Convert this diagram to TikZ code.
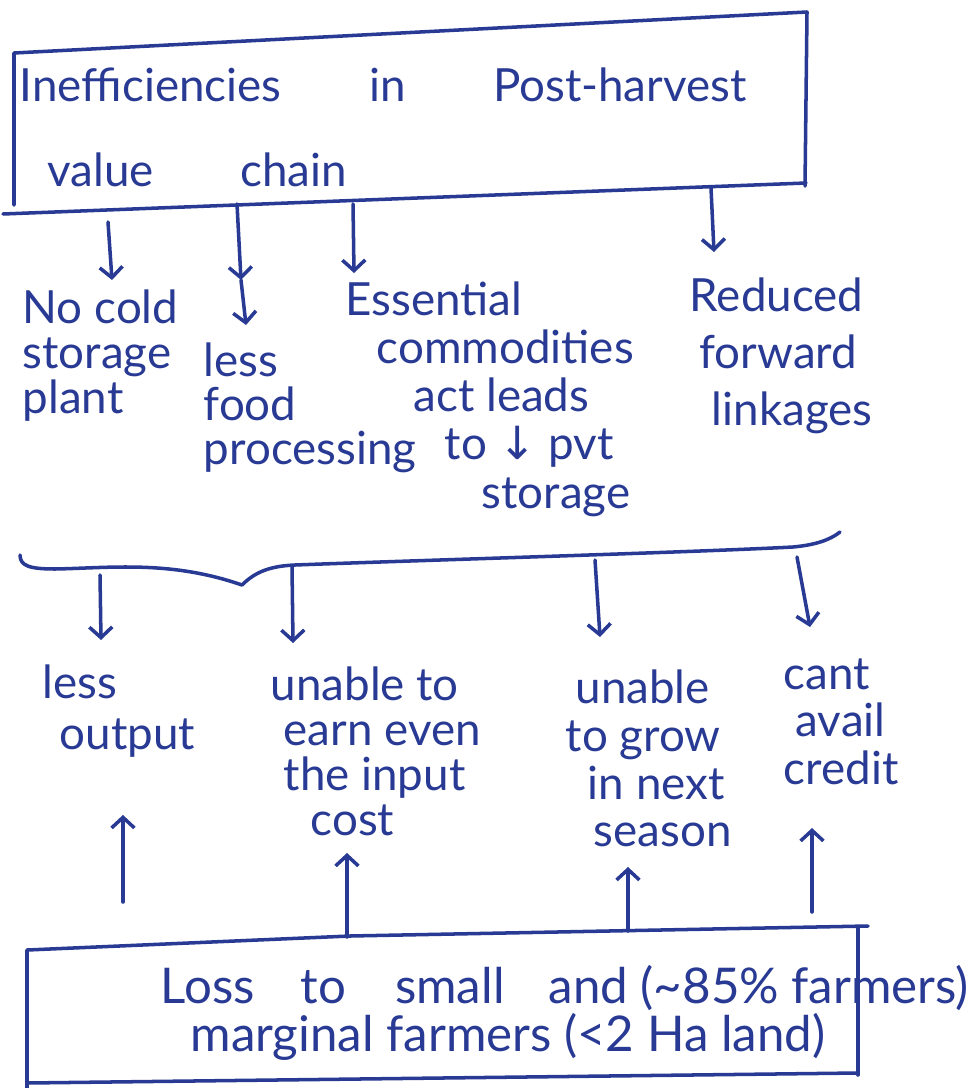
\documentclass[tikz,border=0pt]{standalone}
\usepackage{fontspec}
\setmainfont{Lato}
\newfontfamily\symf{DejaVu Sans}
\usetikzlibrary{arrows.meta}
\definecolor{inkc}{RGB}{40,58,148}
\begin{document}
\begin{tikzpicture}[x=0.01cm,y=-0.01cm,
  ink/.style={draw=inkc, line width=1pt, line cap=round, line join=round},
  arr/.style={ink, -{Straight Barb[length=3pt,width=6.5pt]}},
  lbl/.style={text=inkc, inner sep=0pt, anchor=north west, align=left}]
\useasboundingbox[fill=white] (0,0) rectangle (974,1088);

% top box
\draw[ink] (14,205) -- (14,53) -- (807,12) -- (805,186);
\draw[ink] (3,214) -- (806,183);
\node[lbl, font=\fontsize{13}{24.2}\selectfont] (top) at (19,67)
  {Inefficiencies\hspace{25pt}in\hspace{24.8pt}Post-harvest\\\hspace*{8pt}value\hspace{24.5pt}chain};

% row 1
\node[lbl, font=\fontsize{13}{12.8}\selectfont] (nocold) at (22,289) {No cold\\storage\\plant};
\node[lbl, font=\fontsize{13}{12.5}\selectfont] (lessfood) at (203,342) {less\\food\\processing};
\node[lbl, font=\fontsize{13}{13.7}\selectfont] (essential) at (345,281)
  {Essential\\\hspace*{8.8pt}commodities\\\hspace*{19.3pt}act leads\\\hspace*{28.2pt}to {\symf ↓} pvt\\\hspace*{38.7pt}storage};
\node[lbl, font=\fontsize{13}{16.2}\selectfont] (reduced) at (689,277)
  {Reduced\\\hspace*{2.8pt}forward\\\hspace*{6.3pt}linkages};

% arrows from top box
\coordinate (a1s) at (108,222); \coordinate (a1e) at (112,280);
\coordinate (a2s) at (237,204); \coordinate (a2m) at (241,280); \coordinate (a2e) at (246,325);
\coordinate (a3s) at (353,204); \coordinate (a3e) at (354,273);
\coordinate (a4s) at (711,188); \coordinate (a4e) at (714,252);
\draw[arr] (a1s) -- (a1e);
\draw[arr] (a2s) -- (a2m);
\draw[arr] (a2m) -- (a2e);
\draw[arr] (a3s) -- (a3e);
\draw[arr] (a4s) -- (a4e);

% brace
\draw[ink] (20,555) .. controls (20,566) and (30,569) .. (55,569)
  .. controls (110,568) and (170,560) .. (242,585)
  .. controls (255,572) and (270,566) .. (295,565)
  .. controls (400,561) and (700,552) .. (793,547)
  .. controls (815,545) and (830,540) .. (840,532);

% arrows from brace
\coordinate (b1s) at (100,575); \coordinate (b1e) at (101,640);
\coordinate (b2s) at (292,566); \coordinate (b2e) at (293,643);
\coordinate (b3s) at (595,560); \coordinate (b3e) at (600,637);
\coordinate (b4s) at (797,557); \coordinate (b4e) at (810,627);
\draw[arr] (b1s) -- (b1e);
\draw[arr] (b2s) -- (b2e);
\draw[arr] (b3s) -- (b3e);
\draw[arr] (b4s) -- (b4e);

% row 2
\node[lbl, font=\fontsize{13}{14.5}\selectfont] (lessout) at (42,664) {less\\\hspace*{4.8pt}output};
\node[lbl, font=\fontsize{13}{12.8}\selectfont] (unable1) at (270,666)
  {unable to\\\hspace*{3.7pt}earn even\\\hspace*{3.7pt}the input\\\hspace*{11.4pt}cost};
\node[lbl, font=\fontsize{13}{13.6}\selectfont] (unable2) at (565,669)
  {\hspace*{2.8pt}unable\\to grow\\\hspace*{6.3pt}in next\\\hspace*{8pt}season};
\node[lbl, font=\fontsize{13}{13.5}\selectfont] (cant) at (783,658)
  {cant\\\hspace*{3.4pt}avail\\credit};

% bottom box
\draw[ink] (27,1088) -- (27,950) -- (350,936) -- (868,926);
\draw[ink] (858,928) -- (858,1075);
\draw[ink] (27,1083) -- (858,1073);
\node[lbl, font=\fontsize{14}{13.4}\selectfont] (loss) at (160,965)
  {Loss\hspace{13pt}to\hspace{14pt}small\hspace{12.5pt}and (\textasciitilde 85\% farmers)\\\hspace*{8.5pt}marginal farmers (<2 Ha land)};

% arrows from bottom box
\coordinate (c1s) at (123,902); \coordinate (c1e) at (123,815);
\coordinate (c2s) at (347,937); \coordinate (c2e) at (347,853);
\coordinate (c3s) at (628,931); \coordinate (c3e) at (628,867);
\coordinate (c4s) at (812,912); \coordinate (c4e) at (812,828);
\draw[arr] (c1s) -- (c1e);
\draw[arr] (c2s) -- (c2e);
\draw[arr] (c3s) -- (c3e);
\draw[arr] (c4s) -- (c4e);
\end{tikzpicture}
\end{document}
